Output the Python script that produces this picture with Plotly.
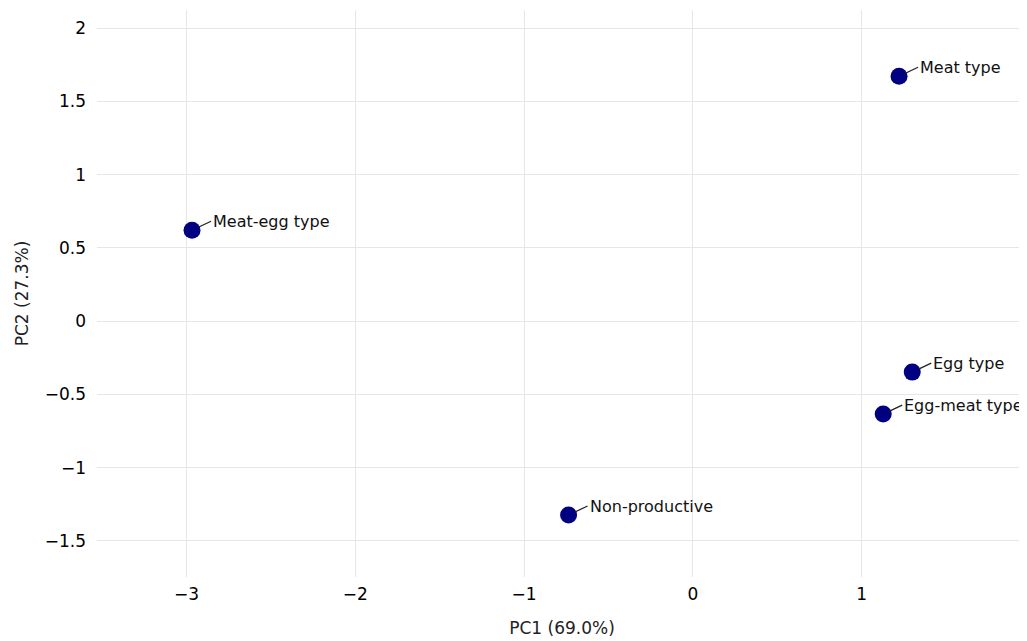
import plotly.graph_objects as go

labels = ["Meat type", "Meat-egg type", "Egg type", "Egg-meat type", "Non-productive"]
pc1 = [1.222, -2.967, 1.30, 1.128, -0.736]
pc2 = [1.671, 0.62, -0.348, -0.634, -1.323]

fig = go.Figure()
fig.add_trace(go.Scatter(
    x=pc1, y=pc2, mode="markers",
    marker=dict(size=17, color="#000080"),
    showlegend=False,
))

for lab, x, y in zip(labels, pc1, pc2):
    fig.add_annotation(
        x=x, y=y, text=lab, showarrow=True, arrowhead=0, arrowwidth=1.3,
        arrowcolor="#222222", ax=19, ay=-9, xanchor="left", yanchor="middle",
        standoff=7, font=dict(family="DejaVu Sans", size=16, color="#111111"),
    )

# page body has an 8px margin; size the figure so the plot area lands at the same pixels
fig.update_layout(
    width=1019, height=633,
    margin=dict(l=89, r=0, t=2, b=64),
    plot_bgcolor="white", paper_bgcolor="white",
    font=dict(family="DejaVu Sans", color="#222222"),
)
fig.update_xaxes(
    range=[-3.53, 1.98], dtick=1, showgrid=True, gridcolor="#e6e6e6",
    zeroline=False, automargin=False, ticklabelstandoff=5,
    tickfont=dict(size=17, color="#000000"),
    title=dict(text="PC1 (69.0%)", font=dict(size=17, color="#222222"), standoff=19),
)
fig.update_yaxes(
    range=[-1.746, 2.123], dtick=0.5, showgrid=True, gridcolor="#e6e6e6",
    zeroline=False, automargin=False, ticklabelstandoff=10,
    tickfont=dict(size=17, color="#000000"),
    title=dict(text="PC2 (27.3%)", font=dict(size=17, color="#222222"), standoff=11),
)

fig.write_html("out.html")
